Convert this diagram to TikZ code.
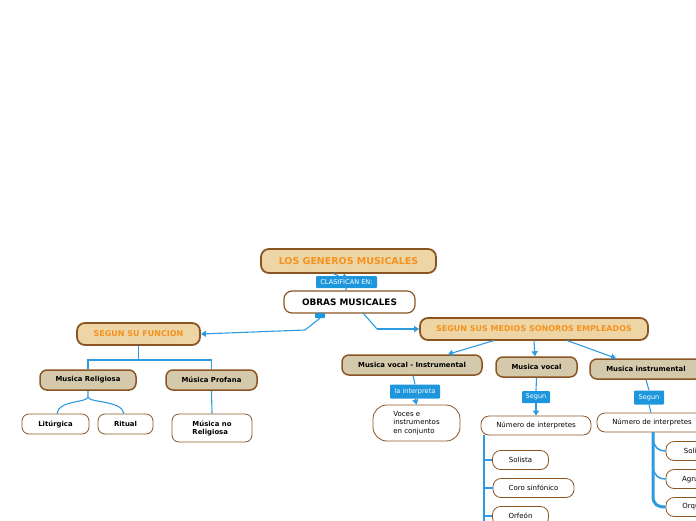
\documentclass[tikz,border=0pt]{standalone}
\usepackage{fontspec}
\setmainfont{DejaVu Sans}
\usetikzlibrary{arrows.meta}
\definecolor{lineblue}{HTML}{2E9BE0}
\definecolor{labblue}{HTML}{1E96DC}
\definecolor{brbrown}{HTML}{8B5523}
\definecolor{tanfill}{HTML}{EED5A6}
\definecolor{greytan}{HTML}{D5C9AB}
\definecolor{orangetxt}{HTML}{F5921E}
\tikzset{
  topbox/.style={draw=brbrown, fill=tanfill, line width=1.8pt, rounded corners=8pt, inner sep=0pt,
    text=orangetxt, font=\bfseries\fontsize{9.5}{10}\selectfont},
  mainw/.style={draw=brbrown, fill=white, line width=1.2pt, rounded corners=8pt, inner sep=0pt,
    font=\bfseries\fontsize{8.9}{10}\selectfont},
  subbox/.style={draw=brbrown, fill=greytan, line width=1.5pt, rounded corners=7pt, inner sep=0pt,
    font=\bfseries\fontsize{6.9}{8}\selectfont},
  leafb/.style={draw=brbrown, fill=white, line width=0.8pt, rounded corners=7pt, inner sep=0pt,
    font=\bfseries\fontsize{6.9}{8}\selectfont},
  leafn/.style={draw=brbrown, fill=white, line width=0.8pt, rounded corners=8pt, inner sep=0pt,
    font=\fontsize{7}{8.5}\selectfont},
  lab/.style={fill=labblue, rounded corners=1pt, inner sep=0pt, text=white,
    font=\fontsize{6.6}{8}\selectfont},
  conn/.style={draw=lineblue, line width=1.1pt},
  arr/.style={conn, -{Triangle[length=5pt,width=6pt]}},
}
\begin{document}
\begin{tikzpicture}[x=1pt,y=-1pt]
\useasboundingbox (0,0) rectangle (696,520);
\clip (0,0) rectangle (696,520);

% nodes
\node[topbox, minimum width=175pt, minimum height=24pt] (gen) at (348.5,261) {LOS GENEROS MUSICALES};
\node[mainw, minimum width=131pt, minimum height=22pt] (obras) at (349.5,302) {OBRAS MUSICALES};
\node[topbox, font=\bfseries\fontsize{8}{9}\selectfont, minimum width=123pt, minimum height=22pt] (func) at (138.5,334) {SEGUN SU FUNCION};
\node[topbox, font=\bfseries\fontsize{8}{9}\selectfont, minimum width=228pt, minimum height=22pt] (medios) at (534,329) {SEGUN SUS MEDIOS SONOROS EMPLEADOS};

\node[subbox, minimum width=96pt, minimum height=20pt] (relig) at (88,380) {Musica Religiosa};
\node[subbox, minimum width=91pt, minimum height=20pt] (prof) at (211.5,380) {Música Profana};
\node[leafb, minimum width=67pt, minimum height=20pt] (litu) at (55.5,424) {Litúrgica};
\node[leafb, minimum width=55pt, minimum height=20pt] (ritual) at (125.5,424) {Ritual};
\node[leafb, minimum width=80pt, minimum height=28pt, align=left] (norel) at (212,428) {Música no\\Religiosa};

\node[subbox, minimum width=140pt, minimum height=20pt] (vocins) at (412,365) {Musica vocal - Instrumental};
\node[subbox, minimum width=81pt, minimum height=20pt] (vocal) at (536.5,367) {Musica vocal};
\node[subbox, minimum width=112pt, minimum height=20pt] (instr) at (646,369) {Musica instrumental};

\node[leafn, minimum width=87pt, minimum height=36pt, align=left, rounded corners=14pt] (voces) at (416.5,423) {Voces e\\instrumentos\\en conjunto};
\node[leafn, minimum width=110pt, minimum height=19pt] (num1) at (536,425.5) {Número de interpretes};
\node[leafn, minimum width=56pt, minimum height=19pt] (sol1) at (520.5,460) {Solista};
\node[leafn, minimum width=81pt, minimum height=19pt] (coro) at (533.5,488) {Coro sinfónico};
\node[leafn, minimum width=56pt, minimum height=19pt] (orf) at (520.5,516) {Orfeón};

\node[leafn, minimum width=110pt, minimum height=19pt] (num2) at (652,422.5) {Número de interpretes};
\node[leafn, minimum width=59pt, minimum height=19pt] (sol2) at (695.5,451) {Solista};
\node[leafn, minimum width=72pt, minimum height=19pt] (agru) at (702,479) {Agrupación};
\node[leafn, minimum width=65pt, minimum height=19pt] (orq) at (698.5,507) {Orquesta};

% labels
\node[lab, minimum width=61pt, minimum height=12pt] (clas) at (346.5,282) {CLASIFICAN EN:};
\node[lab, minimum width=10pt, minimum height=5pt] (tiny) at (320,315.5) {};
\node[lab, minimum width=50pt, minimum height=14pt] (interp) at (415,391.5) {la interpreta};
\node[lab, minimum width=28pt, minimum height=12pt] (seg1) at (536,397) {Segun};
\node[lab, minimum width=30pt, minimum height=14pt] (seg2) at (649,397.5) {Segun};

% connectors
\coordinate (g1) at (333,273.5);
\coordinate (g2) at (344,273.5);
\draw[conn] (clas.north) ++(-8,0) -- (g1);
\draw[arr] (clas.north) ++(-2,0) -- (g2);
\draw[conn] (obras.north) ++(-4,0) -- (clas.south);

\coordinate (fl1) at (305,330);
\draw[conn] (tiny.south) -- (fl1);
\draw[arr] (fl1) -- (func.east);
\coordinate (fr0) at (363,313);
\coordinate (fr1) at (377,329);
\draw[conn] (fr0) -- (fr1);
\draw[arr] (fr1) -- (medios.west);

\coordinate (fb) at (138.5,360);
\draw[conn] (func.south) -- (fb);
\draw[conn] (relig.north) |- (fb) -| (prof.north);
\draw[conn] (relig.south) -- ++(0,6) .. controls (88,403) and (58,400) .. (litu.north -| 57,0);
\draw[conn] (relig.south) ++(0,6) .. controls (88,403) and (122,400) .. (ritual.north -| 124,0);
\draw[conn] (prof.south) -- (norel.north);

\coordinate (m1) at (494,340.5);
\coordinate (m2) at (534,340.5);
\coordinate (m3) at (567,340.5);
\draw[arr] (m1) -- (vocins.north -| 448,0);
\draw[arr] (m2) -- (vocal.north -| 535,0);
\draw[arr] (m3) -- (instr.north -| 616,0);

\draw[conn] (vocins.south) ++(1,0) -- (interp.north);
\draw[arr] (interp.south) -- (voces.north);
\draw[conn] (vocal.south) -- (seg1.north);
\draw[arr] (seg1.south) -- (num1.north);
\draw[conn] (instr.south) -- (seg2.north);
\draw[conn] (seg2.south) -- (num2.north -| 651,0);

% left list tree
\coordinate (t1) at (484,435);
\coordinate (t2) at (484,522);
\draw[draw=lineblue, line width=1.6pt] (t1) -- (t2);
\draw[conn] (484,460) -- (sol1.west);
\draw[conn] (484,488) -- (coro.west);
\draw[conn] (484,516) -- (orf.west);

% right list tree
\coordinate (u1) at (653,432);
\draw[draw=lineblue, line width=3pt] (u1) -- (653,496) .. controls (653,505) and (658,507) .. (orq.west);
\draw[draw=lineblue, line width=1.5pt] (653,439) .. controls (654,448) and (659,451) .. (sol2.west);
\draw[draw=lineblue, line width=1.5pt] (653,467) .. controls (654,476) and (659,479) .. (agru.west);
\end{tikzpicture}
\end{document}
